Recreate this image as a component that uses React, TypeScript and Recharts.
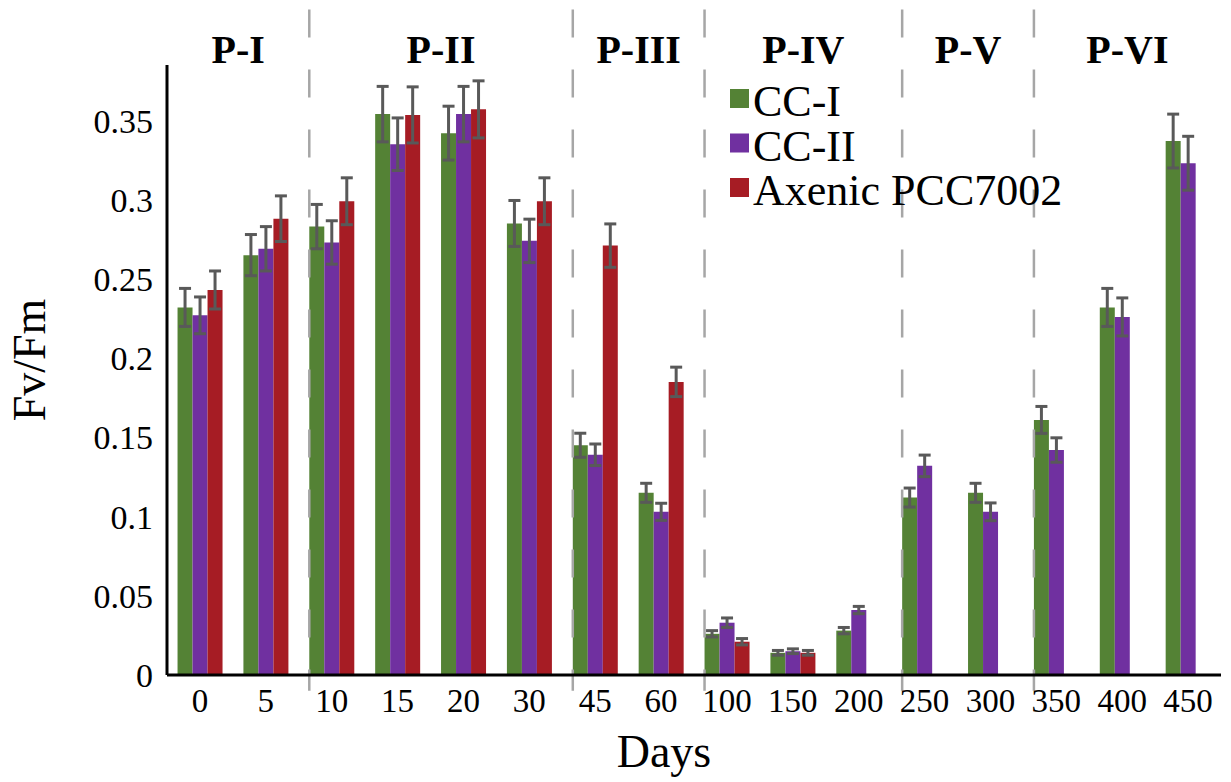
import React from 'react';
import { BarChart, Bar, XAxis, YAxis, ErrorBar, ReferenceLine } from 'recharts';

const days = ['0', '5', '10', '15', '20', '30', '45', '60', '100', '150', '200', '250', '300', '350', '400', '450'];

const ccI = [0.232, 0.265, 0.283, 0.354, 0.342, 0.285, 0.145, 0.115, 0.026, 0.014, 0.028, 0.112, 0.115, 0.161, 0.232, 0.337];
const ccIErr = [0.012, 0.013, 0.014, 0.0175, 0.017, 0.0145, 0.0076, 0.006, 0.002, 0.0015, 0.002, 0.006, 0.006, 0.0085, 0.012, 0.017];

const ccII = [0.227, 0.269, 0.273, 0.335, 0.354, 0.274, 0.139, 0.103, 0.033, 0.015, 0.041, 0.132, 0.103, 0.142, 0.226, 0.323];
const ccIIErr = [0.0116, 0.014, 0.0137, 0.0166, 0.0175, 0.0137, 0.0068, 0.0054, 0.003, 0.0015, 0.0023, 0.0068, 0.0056, 0.0077, 0.012, 0.017];

const axenic = [0.243, 0.288, 0.299, 0.3535, 0.357, 0.299, 0.271, 0.185, 0.021, 0.014, null, null, null, null, null, null];
const axenicErr = [0.012, 0.0144, 0.0148, 0.0177, 0.018, 0.0148, 0.0137, 0.0093, 0.002, 0.0015, null, null, null, null, null, null];

const yTicks = [0, 0.05, 0.1, 0.15, 0.2, 0.25, 0.3, 0.35];

// phase boundaries, as category indexes (a new phase starts at that day)
const phaseBreaks = [2, 6, 8, 11, 13];
const phaseLabels = ['P-I', 'P-II', 'P-III', 'P-IV', 'P-V', 'P-VI'];

const seriesNames = ['CC-I', 'CC-II', 'Axenic PCC7002'];
const seriesColors = ['#548235', '#7030a0', '#a61c24'];

const W = 1231;
const H = 782;
const LEFT = 167;
const RIGHT = 10;
const BAND = (W - LEFT - RIGHT) / days.length;
const FONT = "'Liberation Serif', 'Times New Roman', serif";
const ERR_COLOR = '#595959';
const LINE_SHIFT = 0.16; // dashed lines sit at the left edge of the bar group

const data = days.map((d, i) => ({
  day: d,
  ccI: ccI[i],
  ccIErr: ccIErr[i],
  ccII: ccII[i],
  ccIIErr: ccIIErr[i],
  axenic: axenic[i],
  axenicErr: axenicErr[i],
}));

// phase label centres, in band units from the left of the plot
const bounds = [0, ...phaseBreaks.map((b) => b + LINE_SHIFT), days.length];
const phaseCenters = phaseLabels.map((_, i) => (bounds[i] + bounds[i + 1]) / 2);

const App: React.FC = () => {
  return (
    <div style={{ position: 'absolute', left: 0, top: 0, width: W, height: H, background: '#fff', fontFamily: FONT }}>
      <BarChart
        width={W}
        height={H}
        data={data}
        margin={{ top: 65, right: RIGHT, left: 0, bottom: 0 }}
        barCategoryGap="16%"
        barGap={0}
      >
        <XAxis
          dataKey="day"
          height={107}
          tickLine={false}
          tickSize={6}
          tickMargin={8}
          axisLine={{ stroke: '#000', strokeWidth: 3 }}
          tick={{ fill: '#000', fontSize: 33, fontFamily: FONT }}
          interval={0}
          label={{ value: 'Days', position: 'insideBottom', offset: 15, dx: -30, fill: '#000', fontSize: 46, fontFamily: FONT }}
        />
        <YAxis
          width={LEFT}
          domain={[0, 0.385]}
          ticks={yTicks}
          interval={0}
          tickLine={false}
          tickSize={6}
          tickMargin={8}
          axisLine={{ stroke: '#000', strokeWidth: 3 }}
          tick={{ fill: '#000', fontSize: 34, fontFamily: FONT }}
          tickFormatter={(v: number) => `${v}`}
          allowDataOverflow
          label={{
            value: 'Fv/Fm',
            content: () => (
              <text
                x={0}
                y={0}
                transform={`translate(45, 360) rotate(-90)`}
                textAnchor="middle"
                fontSize={46}
                fontFamily={FONT}
                fill="#000"
              >
                Fv/Fm
              </text>
            ),
          }}
        />
        {phaseBreaks.map((b) => (
          <ReferenceLine
            key={`sep-${b}`}
            ifOverflow="visible"
            segment={[
              { x: days[b], y: 0.42 },
              { x: days[b], y: -0.01 },
            ]}
            shape={(p: any) => (
              <line
                x1={p.x1 + (LINE_SHIFT - 0.5) * BAND}
                x2={p.x2 + (LINE_SHIFT - 0.5) * BAND}
                y1={p.y1}
                y2={p.y2}
                stroke="#a6a6a6"
                strokeWidth={2.5}
                strokeDasharray="28 32"
              />
            )}
          />
        ))}
        {phaseLabels.map((p, i) => {
          const ref = Math.min(Math.floor(phaseCenters[i]), days.length - 1);
          const dx = (phaseCenters[i] - ref - 0.5) * BAND;
          return (
            <ReferenceLine
              key={p}
              x={days[ref]}
              ifOverflow="visible"
              shape={(s: any) => (
                <text
                  x={s.x1 + dx}
                  y={Math.min(s.y1, s.y2) - 2}
                  textAnchor="middle"
                  fontSize={40}
                  fontWeight="bold"
                  fontFamily={FONT}
                  fill="#000"
                >
                  {p}
                </text>
              )}
            />
          );
        })}
        <Bar dataKey="ccI" fill={seriesColors[0]} isAnimationActive={false}>
          <ErrorBar dataKey="ccIErr" width={6} stroke={ERR_COLOR} strokeWidth={3} />
        </Bar>
        <Bar dataKey="ccII" fill={seriesColors[1]} isAnimationActive={false}>
          <ErrorBar dataKey="ccIIErr" width={6} stroke={ERR_COLOR} strokeWidth={3} />
        </Bar>
        <Bar dataKey="axenic" fill={seriesColors[2]} isAnimationActive={false}>
          <ErrorBar dataKey="axenicErr" width={6} stroke={ERR_COLOR} strokeWidth={3} />
        </Bar>
      </BarChart>
      <svg width={W} height={H} style={{ position: 'absolute', left: 0, top: 0, pointerEvents: 'none' }}>
        {seriesNames.map((name, i) => (
          <g key={name}>
            <rect x={730} y={116 + i * 44.5 - 27} width={19} height={19} fill={seriesColors[i]} />
            <text x={753} y={116 + i * 44.5} fontSize={44} fontFamily={FONT} fill="#000">
              {name}
            </text>
          </g>
        ))}
      </svg>
    </div>
  );
};

export default App;
